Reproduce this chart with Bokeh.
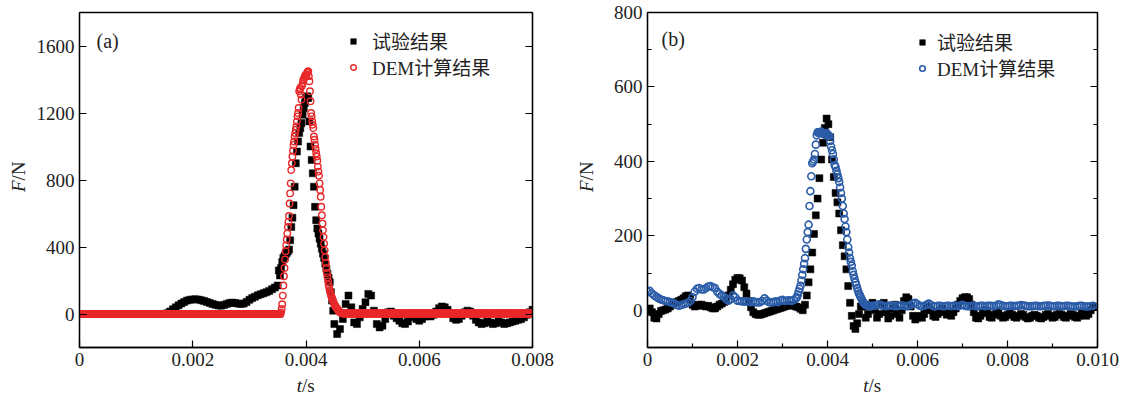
import numpy as np
from bokeh.plotting import figure
from bokeh.layouts import row, column
from bokeh.models import (FixedTicker, LinearAxis, Legend, LegendItem, Label,
                          CustomJSTickFormatter, Range1d)
from bokeh.embed import file_html
from bokeh.resources import INLINE

# ---------------- data ----------------
LABEL_EXP = "试验结果"
LABEL_DEM = "DEM计算结果"

# (a) experiment
A_EXP_PRE_T0, A_EXP_PRE_DT = 0.0, 0.00005
A_EXP_PRE = [0] * 31 + [5, 15, 28, 40, 52, 63, 72, 80, 85, 87,
                        88, 86, 82, 78, 72, 66, 60, 55, 51, 50,
                        54, 60, 66, 68, 66, 62, 60, 62, 72, 85,
                        95, 103, 112, 118, 124, 130, 138, 148, 158, 170]
A_EXP_PULSE_T0, A_EXP_PULSE_DT = 0.00352, 0.00002
A_EXP_PULSE = [260, 230, 275, 310, 335, 345, 355, 365, 375, 385,
               440, 520, 575, 650, 760, 900, 970, 1030, 1080, 1110,
               1140, 1190, 1230, 1260, 1290, 1300, 1290, 1150, 1000, 920,
               840, 760, 640, 560, 510, 480, 450, 420, 390, 360,
               335, 300, 270, 240, 215, 190, 130, 80, 20, -60]
A_EXP_POST_T0, A_EXP_POST_DT = 0.00455, 0.00005
A_EXP_POST = [-120, -90, -30, 60, 110, 40, -50, -60, -20, 30,
              70, 120, 110, 20, -60, -80, -70, -30, 10, 15,
              -10, -25, -40, -55, -60, -45, -20, -10, -30, -40,
              -30, -15, -10, -15, -5, 15, 35, 45, 40, 25,
              0, -25, -35, -30, -10, 10, 20, 15, -10, -35,
              -50, -60, -55, -45, -50, -60, -55, -45, -50, -60,
              -55, -50, -45, -40, -35, -30, -20, -5, 10, 25]

# (a) DEM  (flat stretches read as constant, 10 µs sampling)
A_DEM_PRE_T0, A_DEM_PRE_DT = 0.0, 0.00001
A_DEM_PRE = [0] * 355
A_DEM_PULSE_T0, A_DEM_PULSE_DT = 0.00355, 0.00001
A_DEM_PULSE = [0, 10, 30, 58, 110, 170, 225, 275, 325, 375,
               410, 445, 480, 520, 550, 585, 660, 720, 780, 860,
               900, 940, 975, 1010, 1030, 1060, 1080, 1100, 1120, 1150,
               1180, 1200, 1230, 1330, 1340, 1350, 1310, 1280, 1360, 1375,
               1395, 1400, 1410, 1420, 1425, 1420, 1430, 1440, 1445, 1450,
               1420, 1390, 1330, 1270, 1200, 1180, 1150, 1130, 1110, 1060,
               1040, 1010, 985, 960, 940, 915, 880, 850, 825, 780,
               740, 700, 640, 590, 540, 500, 460, 420, 380, 340,
               305, 275, 245, 220, 195, 175, 158, 142, 128, 115,
               104, 94, 85, 76, 68, 60, 53, 47, 41, 36,
               31, 26, 22, 18, 15, 12, 10, 8, 6, 5, 4]
A_DEM_POST_T0, A_DEM_POST_DT = 0.00466, 0.00001
A_DEM_POST = [3] * 335

# (b) experiment
B_EXP_PRE_T0, B_EXP_PRE_DT = 0.0, 0.00005
B_EXP_PRE = [0, 5, -5, -20, -22, -10, -2, 0, 2, 5,
             10, 15, 20, 22, 25, 28, 32, 38, 40, 30,
             15, 10, 12, 15, 15, 12, 10, 12, 8, 5,
             5, 10, 15, 18, 22, 28, 40, 55, 70, 82,
             87, 86, 80, 62, 45, 25, 8, -5, -10, -12,
             -12, -10, -8, -6, -4, -2, 0, 2, 4, 6,
             8, 10, 12, 14, 14, 12, 10, 8, 4, 0]
B_EXP_PULSE_T0, B_EXP_PULSE_DT = 0.0035, 0.00004
B_EXP_PULSE = [15, 40, 75, 110, 155, 205, 255, 300, 355, 405,
               450, 490, 515, 500, 465, 405, 358, 315, 290, 260,
               215, 175, 145, 110, 65, 20, -15, -42, -50, -35,
               -10, 10]
B_EXP_POST_T0, B_EXP_POST_DT = 0.0048, 0.00005
B_EXP_POST = [10, -20, -10, 15, 20, 0, -20, -10, 15, 20,
              -5, -22, -15, 5, 15, -10, -20, 0, 25, 35,
              30, 10, -15, -25, -20, -15, -20, -10, 5, 10,
              0, -15, -18, -10, 0, 5, -5, -12, -5, -15,
              -5, 5, 15, 25, 32, 35, 35, 30, 15, -5,
              -20, -22, -15, -5, 0, -8, -18, -20, -12, -5,
              -8, -15, -20, -18, -12, -8, -12, -18, -20, -15,
              -10, -12, -18, -22, -20, -15, -12, -15, -20, -22,
              -18, -12, -10, -15, -20, -18, -12, -10, -12, -18,
              -20, -15, -10, -12, -18, -20, -15, -8, -10, -15,
              -10, 0, 10]

# (b) DEM
B_DEM_PRE_T0, B_DEM_PRE_DT = 0.0, 0.00005
B_DEM_PRE = [50, 52, 45, 40, 36, 32, 29, 27, 25, 24,
             22, 20, 18, 14, 12, 14, 16, 18, 20, 25,
             35, 50, 58, 60, 56, 56, 60, 64, 65, 62,
             60, 50, 44, 40, 36, 30, 26, 30, 40, 35,
             26, 25, 24, 24, 23, 23, 22, 24, 22, 21,
             22, 25, 32, 26, 22, 21, 22, 24, 22, 26,
             28, 25, 26, 27, 25, 28, 32]
B_DEM_PULSE_T0, B_DEM_PULSE_DT = 0.00332, 0.00002
B_DEM_PULSE = [35, 42, 50, 58, 66, 80, 95, 110, 125, 140,
               165, 190, 210, 230, 280, 320, 360, 395, 400, 405,
               420, 445, 470, 478, 478, 476, 478, 480, 478, 476,
               474, 472, 474, 476, 472, 470, 468, 455, 440, 430,
               420, 405, 390, 385, 375, 365, 355, 345, 330, 315,
               300, 280, 260, 245, 225, 210, 190, 170, 155, 140,
               130, 120, 105, 95, 85, 75, 68, 60, 52, 45,
               40, 35, 30, 25, 20, 18, 15, 14, 13, 12,
               12, 12, 11, 11, 12]
B_DEM_POST_T0, B_DEM_POST_DT = 0.00505, 0.00005
B_DEM_POST = [12, 14, 16, 13, 12, 11, 12, 13, 12, 11,
              12, 12, 13, 12, 11, 12, 14, 18, 20, 16,
              12, 11, 12, 15, 18, 14, 11, 11, 12, 12,
              11, 11, 12, 12, 11, 12, 12, 11, 13, 15,
              12, 11, 11, 12, 12, 11, 11, 12, 12, 11,
              12, 12, 12, 11, 13, 16, 14, 12, 11, 11,
              12, 12, 11, 12, 12, 14, 13, 12, 11, 11,
              11, 12, 12, 11, 11, 12, 12, 13, 12, 11,
              11, 12, 12, 11, 11, 12, 12, 11, 10, 10,
              11, 12, 12, 11, 10, 10, 11, 12]

A_T_TICKS = [0, 0.002, 0.004, 0.006, 0.008]
A_F_TICKS = [0, 400, 800, 1200, 1600]
B_T_TICKS = [0, 0.002, 0.004, 0.006, 0.008, 0.010]
B_T_MINOR = [0.001, 0.003, 0.005, 0.007, 0.009]
B_F_TICKS = [0, 200, 400, 600, 800]
B_F_MINOR = [100, 300, 500, 700]

RED = "#e8282a"
BLUE = "#2b5ca8"
INK = "#222222"
SERIF = "'Liberation Serif', 'DejaVu Serif', serif"
MIXED = "'Liberation Serif', 'Noto Sans CJK SC', serif"
FS = "19px"

TOTAL_H = 397
TOP = 12
FRAME_H = 335
BOTTOM = 26
MAIN_H = TOP + FRAME_H + BOTTOM
XL_H = TOTAL_H - MAIN_H
YL_W = 30


def series(*segs):
    ts, fs = [], []
    for t0, dt, vals in segs:
        ts.append(t0 + dt * np.arange(len(vals)))
        fs.append(np.asarray(vals, dtype=float))
    return np.concatenate(ts), np.concatenate(fs)


def style_axis(ax, ticker, labels=True, standoff=6):
    ax.ticker = ticker
    ax.axis_line_width = 1.3
    ax.axis_line_color = "black"
    ax.major_tick_in = 7
    ax.major_tick_out = 0
    ax.minor_tick_in = 4
    ax.minor_tick_out = 0
    ax.major_tick_line_width = 1.2
    ax.minor_tick_line_width = 1.2
    ax.major_label_text_font = SERIF
    if labels:
        ax.major_label_text_font_size = FS
        ax.major_label_text_color = INK
    else:
        ax.major_label_text_font_size = "1px"
        ax.major_label_text_color = None
    ax.major_label_standoff = standoff


def blank(width, height):
    f = figure(width=width, height=height, x_range=Range1d(0, 1), y_range=Range1d(0, 1),
               output_backend="svg", toolbar_location=None,
               x_axis_location=None, y_axis_location=None, min_border=0)
    f.outline_line_color = None
    f.xgrid.visible = False
    f.ygrid.visible = False
    f.background_fill_color = "white"
    f.border_fill_color = "white"
    return f


def text(x, y, s, italic=False, align="left", angle=0.0, size=FS, baseline="middle"):
    return Label(x=x, y=y, x_units="screen", y_units="screen", text=s, angle=angle,
                 text_font=SERIF, text_font_style="italic" if italic else "normal",
                 text_font_size=size, text_color=INK, text_baseline=baseline,
                 text_align=align)


def legend(renderer, label, pos, standoff):
    return Legend(items=[LegendItem(label=label, renderers=[renderer])],
                  location=pos, border_line_color=None, background_fill_alpha=0,
                  glyph_width=14, glyph_height=20, label_height=20, spacing=0,
                  padding=0, margin=0, label_standoff=standoff,
                  label_text_font=MIXED, label_text_font_size=FS,
                  label_text_color=INK)


def panel(width, left, right, xr, yr, xt, xminor, yt, yminor,
          exp, dem, dem_color, dem_size, dem_lw, tag, tag_x, tag_y,
          leg_x, leg_y1, leg_y2, leg_standoff, ylab_x, xlab_x):
    p = figure(width=width, height=MAIN_H, x_range=Range1d(*xr), y_range=Range1d(*yr),
               output_backend="svg", toolbar_location=None,
               min_border_left=left, min_border_right=right,
               min_border_top=TOP, min_border_bottom=BOTTOM)
    p.xgrid.visible = False
    p.ygrid.visible = False
    p.outline_line_color = "black"
    p.outline_line_width = 1.3
    p.background_fill_color = "white"
    p.border_fill_color = "white"

    style_axis(p.xaxis[0], FixedTicker(ticks=xt, minor_ticks=xminor), standoff=5)
    p.xaxis[0].formatter = CustomJSTickFormatter(
        code="return tick == 0 ? '0' : tick.toFixed(3);")
    style_axis(p.yaxis[0], FixedTicker(ticks=yt, minor_ticks=yminor), standoff=5)
    rax = LinearAxis()
    style_axis(rax, FixedTicker(ticks=yt, minor_ticks=yminor), labels=False)
    p.add_layout(rax, "right")

    r_exp = p.scatter(exp[0], exp[1], marker="square", size=7,
                      fill_color="black", line_color="black", line_width=0.5)
    r_dem = p.scatter(dem[0], dem[1], marker="circle", size=dem_size,
                      fill_color=None, line_color=dem_color, line_width=dem_lw)

    p.add_layout(legend(r_exp, LABEL_EXP, (leg_x, leg_y1), leg_standoff))
    p.add_layout(legend(r_dem, LABEL_DEM, (leg_x, leg_y2), leg_standoff))
    p.add_layout(text(tag_x, tag_y, tag, size="20px"))

    # y-axis label  F/N  (own strip, left of the plot)
    yl = blank(YL_W, TOTAL_H)
    yl.add_layout(text(ylab_x, 217, "F", italic=True, align="right", angle=np.pi / 2))
    yl.add_layout(text(ylab_x, 217, "/N", align="left", angle=np.pi / 2))
    # x-axis label  t/s  (own strip below; its frame lines up with the plot frame)
    xl = blank(width, XL_H)
    xl.add_layout(text(xlab_x, 12.5, "t", italic=True, align="right"))
    xl.add_layout(text(xlab_x, 12.5, "/s", align="left"))
    return row(yl, column(p, xl))


a_exp = series((A_EXP_PRE_T0, A_EXP_PRE_DT, A_EXP_PRE),
               (A_EXP_PULSE_T0, A_EXP_PULSE_DT, A_EXP_PULSE),
               (A_EXP_POST_T0, A_EXP_POST_DT, A_EXP_POST))
a_dem = series((A_DEM_PRE_T0, A_DEM_PRE_DT, A_DEM_PRE),
               (A_DEM_PULSE_T0, A_DEM_PULSE_DT, A_DEM_PULSE),
               (A_DEM_POST_T0, A_DEM_POST_DT, A_DEM_POST))
b_exp = series((B_EXP_PRE_T0, B_EXP_PRE_DT, B_EXP_PRE),
               (B_EXP_PULSE_T0, B_EXP_PULSE_DT, B_EXP_PULSE),
               (B_EXP_POST_T0, B_EXP_POST_DT, B_EXP_POST))
b_dem = series((B_DEM_PRE_T0, B_DEM_PRE_DT, B_DEM_PRE),
               (B_DEM_PULSE_T0, B_DEM_PULSE_DT, B_DEM_PULSE),
               (B_DEM_POST_T0, B_DEM_POST_DT, B_DEM_POST))

# left block: strip 0..30, plot 30..572 (frame 79..532)
pa = panel(542, 49, 40, (0, 0.008), (-200, 1800), A_T_TICKS, [], A_F_TICKS, [],
           a_exp, a_dem, RED, 6.5, 1.4, "(a)", 17, 307,
           267, 293, 267, 12, 18, 222.5)
# right block: strip 572..602, plot 602..1136 (frame 647..1097)
pb = panel(534, 45, 39, (0, 0.010), (-100, 800), B_T_TICKS, B_T_MINOR, B_F_TICKS, B_F_MINOR,
           b_exp, b_dem, BLUE, 7, 1.6, "(b)", 14, 309,
           268, 292, 266, 8, 14, 221)

layout = row(pa, pb)
open("out.html", "w").write(file_html(layout, INLINE))
